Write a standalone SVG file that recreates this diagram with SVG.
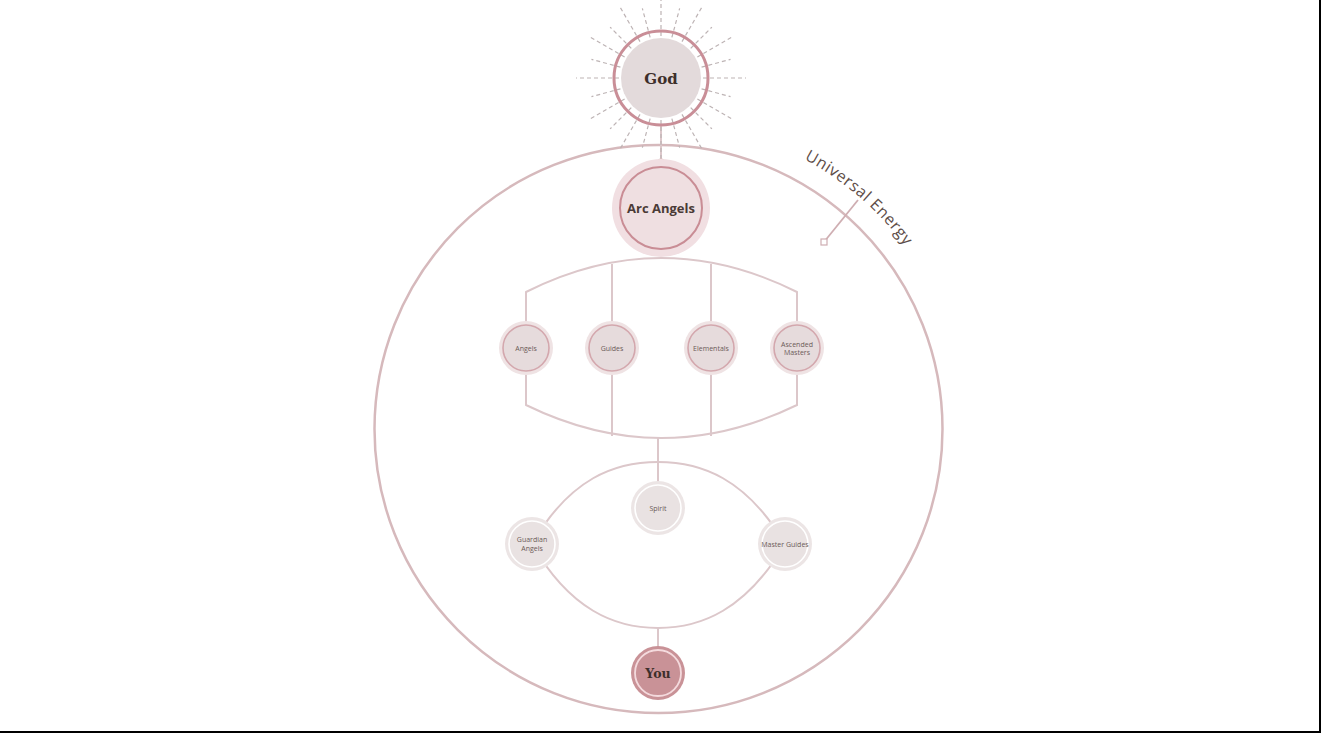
<svg xmlns="http://www.w3.org/2000/svg" width="1321" height="733" viewBox="0 0 1321 733">
<style>
.conn{fill:none;stroke:#dcc7ca;stroke-width:2}
.ray{stroke:#bdb3b4;stroke-width:1.2;stroke-dasharray:4 3}
.halo{fill:#efe3e4}
.nfill{fill:#e6dbdc;stroke:#d3a7ad;stroke-width:1.6}
.lfill{fill:#e9e2e2;stroke:#ffffff;stroke-width:1.6}
.lhalo{fill:#ece5e5}
.small{font-family:"Open Sans","Liberation Sans",sans-serif;font-size:7px;fill:#6b5a57;text-anchor:middle}
</style>
<defs>
<path id="uepath" d="M 804.3 159.1 A 307 307 0 0 1 960.9 375.7" fill="none"/>
</defs>
<rect x="0" y="0" width="1321" height="733" fill="#ffffff"/>
<line x1="0" y1="732" x2="1321" y2="732" stroke="#000" stroke-width="2"/>
<line x1="1320" y1="0" x2="1320" y2="733" stroke="#000" stroke-width="2"/>

<circle cx="658.5" cy="429" r="284" fill="none" stroke="#d6b9bc" stroke-width="2.5"/>

<g id="connectors">
<line class="conn" x1="661" y1="125" x2="661" y2="160"/>
<path class="conn" d="M526,322 V292 Q661,224 797,292 V322"/>
<line class="conn" x1="612" y1="264" x2="612" y2="322"/>
<line class="conn" x1="711" y1="264" x2="711" y2="322"/>
<path class="conn" d="M526,374 V405 Q661,471 797,405 V374"/>
<line class="conn" x1="612" y1="374" x2="612" y2="436"/>
<line class="conn" x1="711" y1="374" x2="711" y2="436"/>
<line class="conn" x1="658" y1="438" x2="658" y2="482"/>
<path class="conn" d="M532,544 C570,478 615,462 658,462 S746,478 785,544"/>
<path class="conn" d="M532,544 C570,610 615,628 658,628 S746,610 785,544"/>
<line class="conn" x1="658" y1="628" x2="658" y2="647"/>
<line x1="824" y1="242" x2="858" y2="200" stroke="#cfaeb2" stroke-width="1.8"/>
<rect x="821" y="239" width="6" height="6" fill="#fff" stroke="#cfaeb2" stroke-width="1.2"/>
<circle cx="661" cy="162" r="3" fill="#fff" stroke="#cfaeb2" stroke-width="1.2"/>
</g>

<g id="god">
<g class="rays">
<line class="ray" x1="661" y1="36" x2="661" y2="-7" transform="rotate(0 661 78)"/>
<line class="ray" x1="661" y1="36" x2="661" y2="6" transform="rotate(15 661 78)"/>
<line class="ray" x1="661" y1="36" x2="661" y2="-4" transform="rotate(30 661 78)"/>
<line class="ray" x1="661" y1="36" x2="661" y2="6" transform="rotate(45 661 78)"/>
<line class="ray" x1="661" y1="36" x2="661" y2="-4" transform="rotate(60 661 78)"/>
<line class="ray" x1="661" y1="36" x2="661" y2="6" transform="rotate(75 661 78)"/>
<line class="ray" x1="661" y1="36" x2="661" y2="-7" transform="rotate(90 661 78)"/>
<line class="ray" x1="661" y1="36" x2="661" y2="6" transform="rotate(105 661 78)"/>
<line class="ray" x1="661" y1="36" x2="661" y2="-4" transform="rotate(120 661 78)"/>
<line class="ray" x1="661" y1="36" x2="661" y2="6" transform="rotate(135 661 78)"/>
<line class="ray" x1="661" y1="36" x2="661" y2="-4" transform="rotate(150 661 78)"/>
<line class="ray" x1="661" y1="36" x2="661" y2="6" transform="rotate(165 661 78)"/>
<line class="ray" x1="661" y1="36" x2="661" y2="-2" transform="rotate(180 661 78)"/>
<line class="ray" x1="661" y1="36" x2="661" y2="6" transform="rotate(195 661 78)"/>
<line class="ray" x1="661" y1="36" x2="661" y2="-4" transform="rotate(210 661 78)"/>
<line class="ray" x1="661" y1="36" x2="661" y2="6" transform="rotate(225 661 78)"/>
<line class="ray" x1="661" y1="36" x2="661" y2="-4" transform="rotate(240 661 78)"/>
<line class="ray" x1="661" y1="36" x2="661" y2="6" transform="rotate(255 661 78)"/>
<line class="ray" x1="661" y1="36" x2="661" y2="-7" transform="rotate(270 661 78)"/>
<line class="ray" x1="661" y1="36" x2="661" y2="6" transform="rotate(285 661 78)"/>
<line class="ray" x1="661" y1="36" x2="661" y2="-4" transform="rotate(300 661 78)"/>
<line class="ray" x1="661" y1="36" x2="661" y2="6" transform="rotate(315 661 78)"/>
<line class="ray" x1="661" y1="36" x2="661" y2="-4" transform="rotate(330 661 78)"/>
<line class="ray" x1="661" y1="36" x2="661" y2="6" transform="rotate(345 661 78)"/>
</g>
<circle cx="661" cy="78" r="47" fill="none" stroke="#c98e97" stroke-width="3"/>
<circle cx="661" cy="78" r="40" fill="#e3dadb"/>
<text x="661" y="84" font-family="'DejaVu Serif','Liberation Serif',serif" font-weight="bold" font-size="15" fill="#3e2f2b" text-anchor="middle">God</text>
</g>

<g id="arcangels">
<circle cx="661" cy="208" r="49" fill="#f1dfe2"/>
<circle cx="661" cy="208" r="41" fill="#efdfe1" stroke="#c98d95" stroke-width="2"/>
<text x="661" y="213" font-family="'Open Sans','Liberation Sans',sans-serif" font-weight="bold" font-size="13" fill="#4a3a36" text-anchor="middle">Arc Angels</text>
</g>

<g id="angels">
<circle class="halo" cx="526" cy="348" r="27"/>
<circle class="nfill" cx="526" cy="348" r="23"/>
<text class="small" x="526" y="350.5">Angels</text>
</g>
<g id="guides">
<circle class="halo" cx="612" cy="348" r="27"/>
<circle class="nfill" cx="612" cy="348" r="23"/>
<text class="small" x="612" y="350.5">Guides</text>
</g>
<g id="elementals">
<circle class="halo" cx="711" cy="348" r="27"/>
<circle class="nfill" cx="711" cy="348" r="23"/>
<text class="small" x="711" y="350.5">Elementals</text>
</g>
<g id="ascended">
<circle class="halo" cx="797" cy="348" r="27"/>
<circle class="nfill" cx="797" cy="348" r="23"/>
<text class="small" x="797" y="346.5">Ascended</text>
<text class="small" x="797" y="355">Masters</text>
</g>

<g id="spirit">
<circle class="lhalo" cx="658" cy="508" r="27"/>
<circle class="lfill" cx="658" cy="508" r="23"/>
<text class="small" x="658" y="510.5">Spirit</text>
</g>
<g id="guardian">
<circle class="lhalo" cx="532" cy="544" r="27"/>
<circle class="lfill" cx="532" cy="544" r="23"/>
<text class="small" x="532" y="542">Guardian</text>
<text class="small" x="532" y="550.5">Angels</text>
</g>
<g id="masterguides">
<circle class="lhalo" cx="785" cy="544" r="27"/>
<circle class="lfill" cx="785" cy="544" r="23"/>
<text class="small" x="785" y="546.5">Master Guides</text>
</g>

<g id="you">
<circle cx="658" cy="673" r="27" fill="#c99297"/>
<circle cx="658" cy="673" r="23" fill="#c99297" stroke="#f4dadd" stroke-width="1.8"/>
<text x="658" y="678" font-family="'DejaVu Serif','Liberation Serif',serif" font-weight="bold" font-size="12.5" fill="#3e2f2b" text-anchor="middle">You</text>
</g>

<g id="universal-energy">
<text font-family="'Open Sans','Liberation Sans',sans-serif" font-size="16" fill="#5e4d48" letter-spacing="0.6"><textPath href="#uepath">Universal Energy</textPath></text>
</g>
</svg>
